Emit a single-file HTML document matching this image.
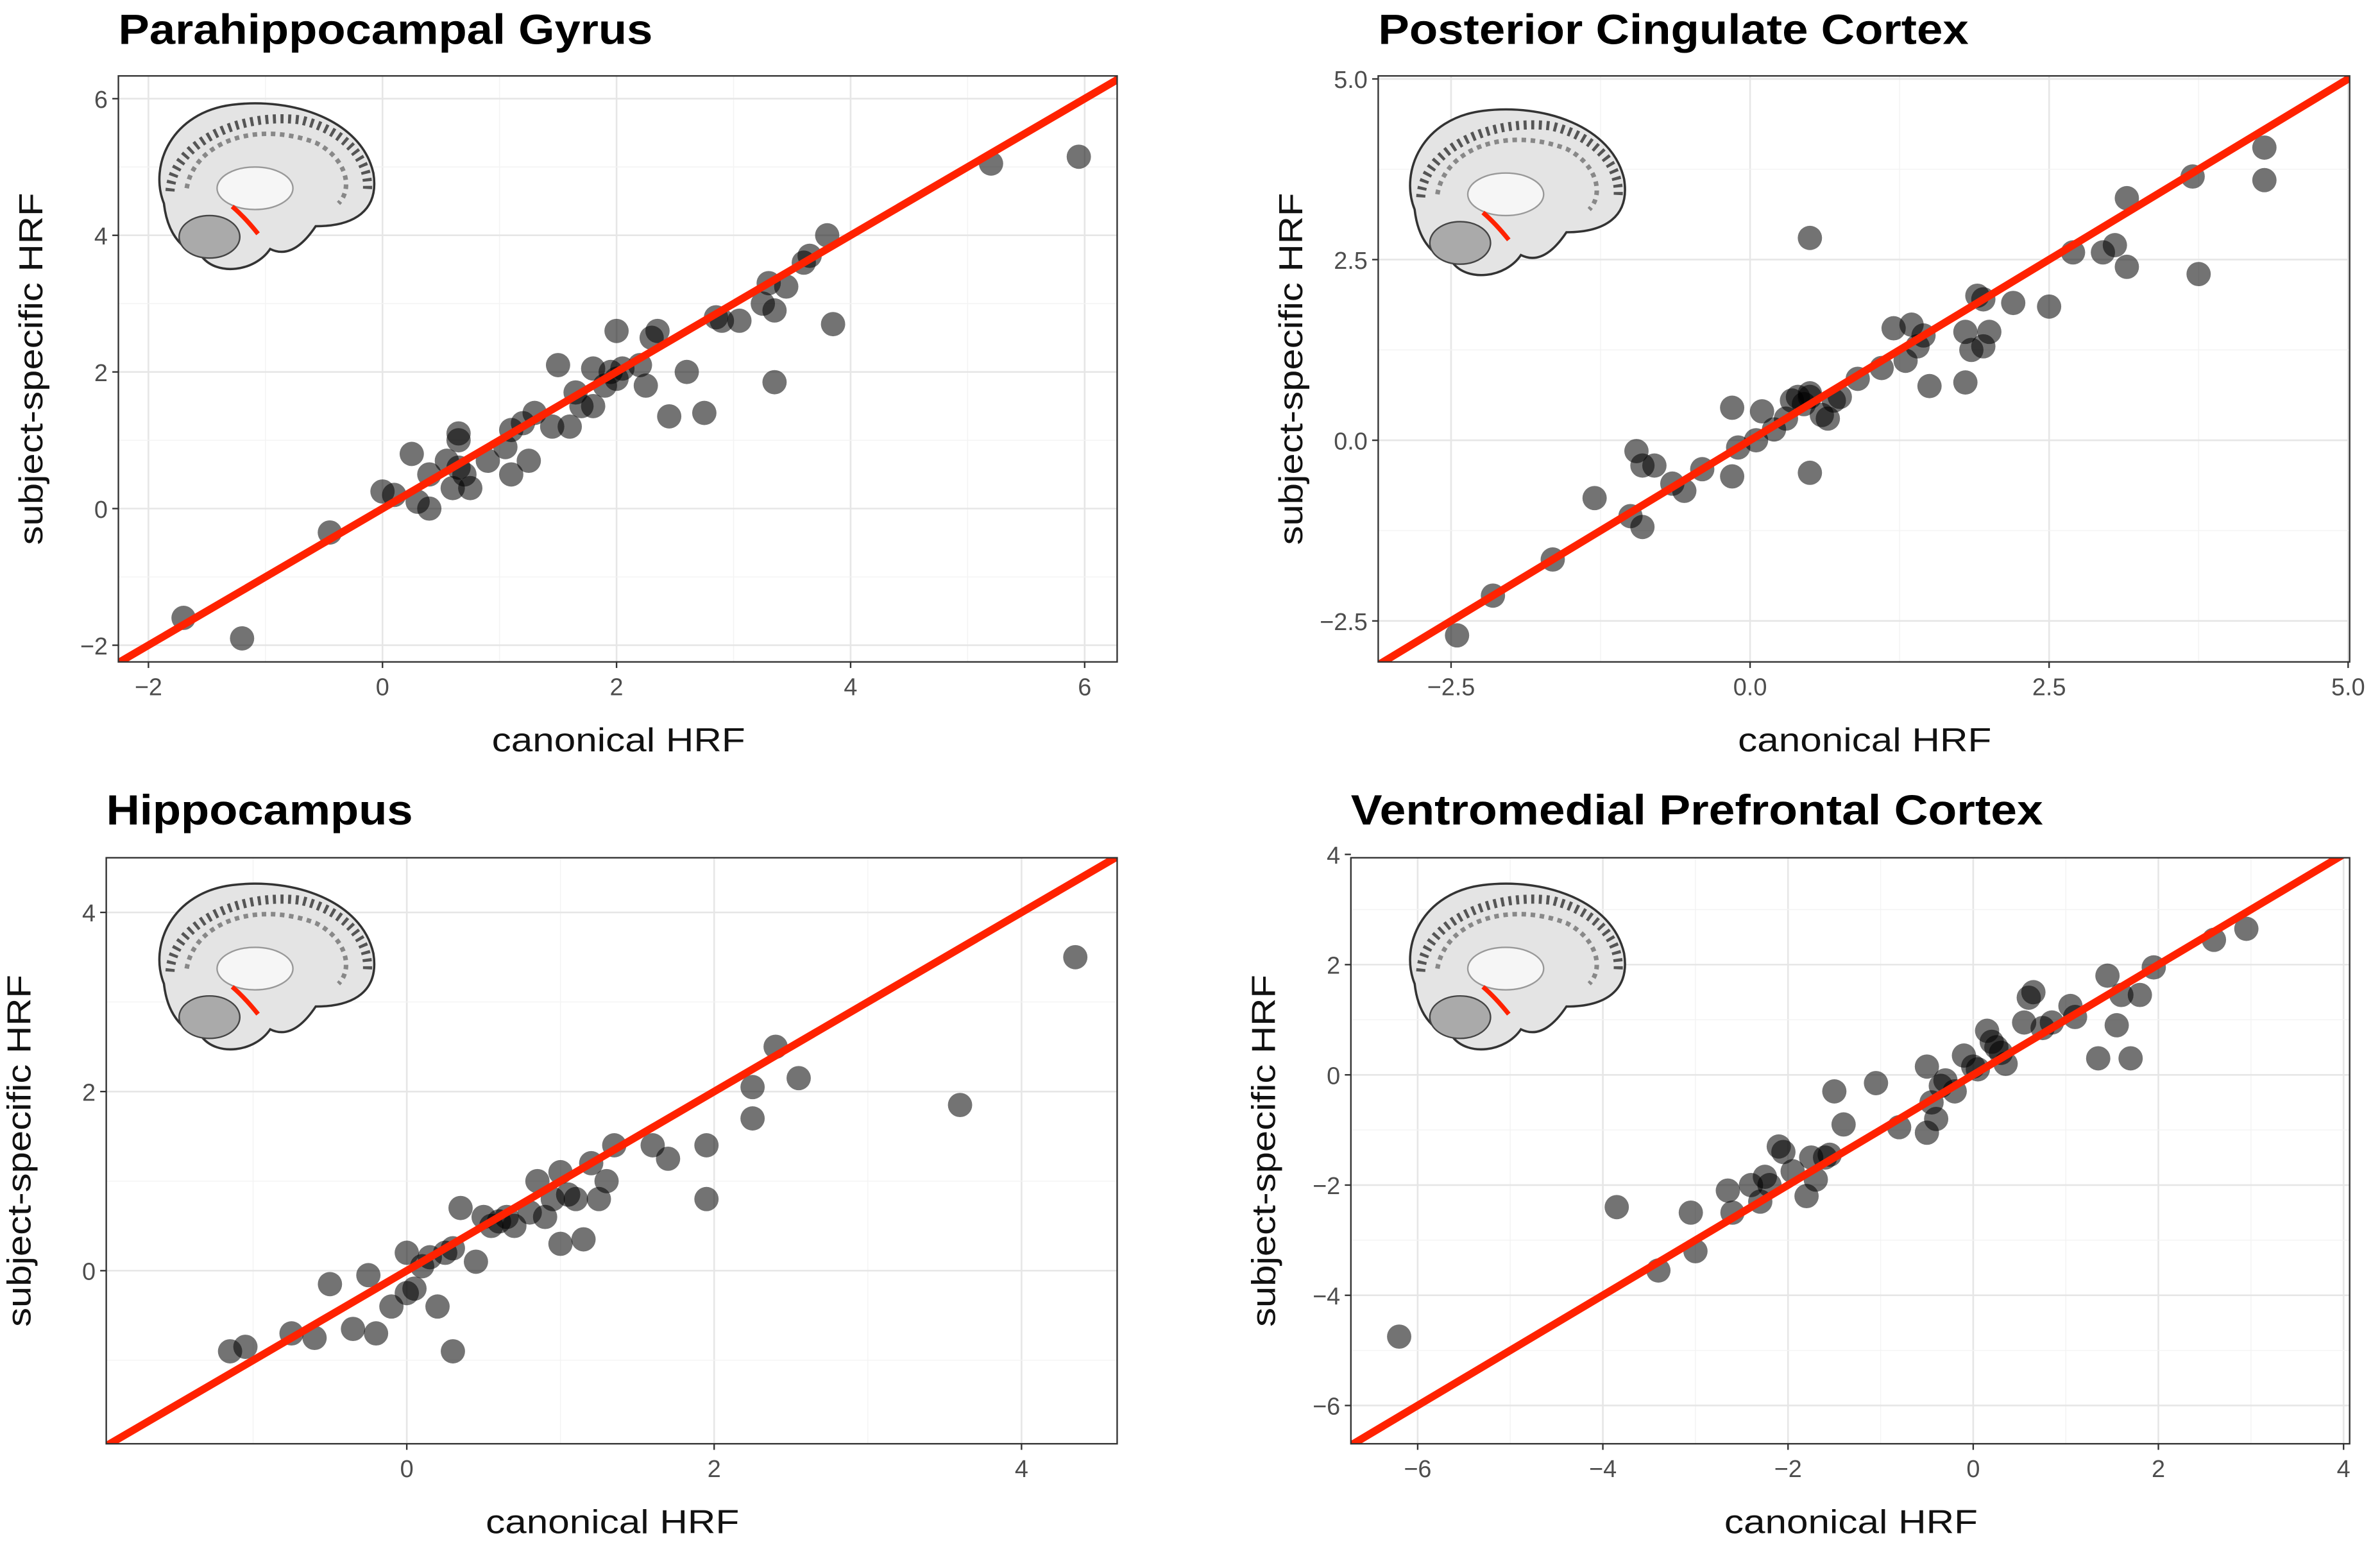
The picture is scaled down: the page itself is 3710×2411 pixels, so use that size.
<!DOCTYPE html>
<html><head><meta charset="utf-8">
<style>
html,body{margin:0;padding:0;background:#fff;}
svg{display:block;}
text{font-family:"Liberation Sans",Arial,sans-serif;}
</style></head>
<body>
<svg id="fig" width="3710" height="2411" viewBox="0 0 1568 1019" preserveAspectRatio="none" xmlns="http://www.w3.org/2000/svg"></svg>
<script>
// ---- data ----
const titles = ["Parahippocampal Gyrus","Posterior Cingulate Cortex","Hippocampus","Ventromedial Prefrontal Cortex"];
const xTicks1 = [-2,0,2,4,6];
const yTicks1 = [-2,0,2,4,6];
const xTicks2 = [-2.5,0.0,2.5,5.0];
const yTicks2 = [-2.5,0.0,2.5,5.0];
const xTicks3 = [0,2,4];
const yTicks3 = [0,2,4];
const xTicks4 = [-6,-4,-2,0,2,4];
const yTicks4 = [-6,-4,-2,0,2,4];
const xs1 = [-1.7,-1.2,-0.45,0,0.1,0.25,0.3,0.4,0.4,0.55,0.6,0.65,0.65,0.65,0.7,0.75,0.9,1.05,1.1,1.1,1.2,1.25,1.3,1.45,1.5,1.6,1.65,1.7,1.8,1.8,1.9,1.95,2.0,2.0,2.05,2.2,2.25,2.3,2.35,2.45,2.6,2.75,2.85,2.9,3.05,3.25,3.3,3.35,3.35,3.45,3.6,3.65,3.8,3.85,5.2,5.95];
const ys1 = [-1.6,-1.9,-0.35,0.25,0.2,0.8,0.1,0.5,0,0.7,0.3,1.0,1.1,0.6,0.5,0.3,0.7,0.9,1.15,0.5,1.25,0.7,1.4,1.2,2.1,1.2,1.7,1.5,1.5,2.05,1.8,2.0,2.6,1.9,2.05,2.1,1.8,2.5,2.6,1.35,2.0,1.4,2.8,2.75,2.75,3.0,3.3,2.9,1.85,3.25,3.6,3.7,4.0,2.7,5.05,5.15];
const xs2 = [-2.45,-2.15,-1.65,-1.3,-1.0,-0.9,-0.95,-0.9,-0.8,-0.65,-0.55,-0.4,-0.15,-0.15,-0.1,0.05,0.1,0.2,0.3,0.35,0.4,0.45,0.5,0.5,0.5,0.5,0.6,0.65,0.7,0.75,0.9,1.1,1.2,1.3,1.35,1.4,1.45,1.5,1.8,1.8,1.85,1.9,1.95,1.95,2.0,2.2,2.5,2.7,2.95,3.05,3.15,3.15,3.7,3.75,4.3,4.3];
const ys2 = [-2.7,-2.15,-1.65,-0.8,-1.05,-1.2,-0.15,-0.35,-0.35,-0.6,-0.7,-0.4,-0.5,0.45,-0.1,0.0,0.4,0.15,0.3,0.55,0.6,0.5,0.65,0.6,2.8,-0.45,0.35,0.3,0.55,0.6,0.85,1.0,1.55,1.1,1.6,1.3,1.45,0.75,0.8,1.5,1.25,2.0,1.95,1.3,1.5,1.9,1.85,2.6,2.6,2.7,3.35,2.4,3.65,2.3,4.05,3.6];
const xs3 = [-1.15,-1.05,-0.75,-0.6,-0.5,-0.35,-0.25,-0.2,-0.1,0,0,0.05,0.1,0.15,0.2,0.25,0.3,0.3,0.35,0.45,0.5,0.55,0.6,0.65,0.7,0.8,0.85,0.9,0.95,1.0,1.0,1.05,1.1,1.15,1.2,1.25,1.3,1.35,1.6,1.7,1.95,1.95,2.25,2.25,2.4,2.55,3.6,4.35];
const ys3 = [-0.9,-0.85,-0.7,-0.75,-0.15,-0.65,-0.05,-0.7,-0.4,0.2,-0.25,-0.2,0.05,0.15,-0.4,0.2,0.25,-0.9,0.7,0.1,0.6,0.5,0.55,0.6,0.5,0.65,1.0,0.6,0.8,1.1,0.3,0.85,0.8,0.35,1.2,0.8,1.0,1.4,1.4,1.25,0.8,1.4,1.7,2.05,2.5,2.15,1.85,3.5];
const xs4 = [-6.2,-3.85,-3.4,-3.05,-3.0,-2.65,-2.6,-2.4,-2.3,-2.25,-2.2,-2.1,-2.05,-1.95,-1.8,-1.75,-1.7,-1.6,-1.55,-1.5,-1.4,-1.05,-0.8,-0.5,-0.5,-0.45,-0.4,-0.35,-0.3,-0.2,-0.1,0,0.05,0.15,0.2,0.25,0.3,0.35,0.55,0.6,0.65,0.75,0.85,1.05,1.1,1.35,1.45,1.55,1.6,1.7,1.8,1.95,2.6,2.95];
const ys4 = [-4.75,-2.4,-3.55,-2.5,-3.2,-2.1,-2.5,-2.0,-2.3,-1.85,-2.0,-1.3,-1.4,-1.75,-2.2,-1.5,-1.9,-1.5,-1.45,-0.3,-0.9,-0.15,-0.95,-1.05,0.15,-0.5,-0.8,-0.2,-0.1,-0.3,0.35,0.15,0.1,0.8,0.6,0.5,0.4,0.2,0.95,1.4,1.5,0.85,0.95,1.25,1.05,0.3,1.8,0.9,1.45,0.3,1.45,1.95,2.45,2.65];

// ---- layout (thumbnail coordinates) ----
const panels = [
 {name:"parahippocampal", L:78,R:736,T:50,B:436, x0:252,xk:77.1, y0:335,yk:45, xt:xTicks1,yt:yTicks1,xs:xs1,ys:ys1, tx:78,ty:29,tw:352, fmt:v=>String(v), brain:[98,64]},
 {name:"posterior-cingulate", L:908,R:1548,T:50,B:436, x0:1153,xk:78.8, y0:290,yk:47.6, xt:xTicks2,yt:yTicks2,xs:xs2,ys:ys2, tx:908,ty:29,tw:389, fmt:v=>v.toFixed(1), brain:[922,68]},
 {name:"hippocampus", L:70,R:736,T:565,B:951, x0:268,xk:101.25, y0:837,yk:59, xt:xTicks3,yt:yTicks3,xs:xs3,ys:ys3, tx:70,ty:543,tw:202, fmt:v=>String(v), brain:[98,578]},
 {name:"vmpfc", L:890,R:1548,T:565,B:951, x0:1300,xk:61, y0:708,yk:36.3, xt:xTicks4,yt:yTicks4,xs:xs4,ys:ys4, tx:890,ty:543,tw:456, fmt:v=>String(v), brain:[922,578]}
];
const NS="http://www.w3.org/2000/svg";
const svg=document.getElementById('fig');
function mk(tag,attrs,parent){const e=document.createElementNS(NS,tag);for(const k in attrs)e.setAttribute(k,attrs[k]);(parent||svg).appendChild(e);return e;}
const defs=mk('defs',{});
panels.forEach((p,i)=>{
  const sx=v=>p.x0+p.xk*v, sy=v=>p.y0-p.yk*v;
  const g=mk('g',{});
  
  
  const cp=mk('clipPath',{id:'cp'+i},defs);
  mk('rect',{x:p.L,y:p.T,width:p.R-p.L,height:p.B-p.T},cp);
  const bg=mk('rect',{x:p.L,y:p.T,width:p.R-p.L,height:p.B-p.T,fill:'#fff'},g);
  
  
  const step=p.xt[1]-p.xt[0];
  const vxmin=(p.L-p.x0)/p.xk, vxmax=(p.R-p.x0)/p.xk;
  for(let v=Math.floor(vxmin/step*2)*step/2; v<=vxmax; v+=step/2){
    const major=Math.abs(Math.round(v/step)*step-v)<1e-6;
    const X=sx(v); if(X<p.L||X>p.R) continue;
    const l=mk('line',{x1:X,x2:X,y1:p.T,y2:p.B,stroke:major?'#e6e6e6':'#f3f3f3','stroke-width':major?1.1:0.6},g);
    
    
  }
  const ystep=p.yt[1]-p.yt[0];
  const vymin=(p.y0-p.B)/p.yk, vymax=(p.y0-p.T)/p.yk;
  for(let v=Math.floor(vymin/ystep*2)*ystep/2; v<=vymax; v+=ystep/2){
    const major=Math.abs(Math.round(v/ystep)*ystep-v)<1e-6;
    const Y=sy(v); if(Y<p.T||Y>p.B) continue;
    const l=mk('line',{x1:p.L,x2:p.R,y1:Y,y2:Y,stroke:major?'#e6e6e6':'#f3f3f3','stroke-width':major?1.1:0.6},g);
    
    
  }
  // brain inset
  const [bx,by]=p.brain;
  const br=mk('g',{transform:`translate(${bx},${by})`},g);
  
  
  mk('path',{d:'M10,70 C0,45 15,10 55,5 C95,0 140,15 148,50 C152,75 135,85 110,85 C100,100 90,105 80,100 C70,115 45,118 35,105 C20,100 12,88 10,70 Z',fill:'#e4e4e4',stroke:'#333','stroke-width':1.5},br);
  mk('path',{d:'M14,62 C16,30 60,10 100,15 C130,22 146,42 144,62',fill:'none',stroke:'#555','stroke-width':6,'stroke-dasharray':'2 3'},br);
  mk('path',{d:'M25,60 C30,30 70,15 110,30 C130,40 135,60 125,70',fill:'none',stroke:'#888','stroke-width':3,'stroke-dasharray':'3 3'},br);
  mk('ellipse',{cx:70,cy:60,rx:25,ry:14,fill:'#f6f6f6',stroke:'#999','stroke-width':1},br);
  mk('ellipse',{cx:40,cy:92,rx:20,ry:14,fill:'#aaa',stroke:'#444','stroke-width':1},br);
  mk('path',{d:'M55,72 C62,78 68,85 72,90',fill:'none',stroke:'#ff2200','stroke-width':3},br);
  // points
  const pg=mk('g',{'clip-path':`url(#cp${i})`},g);
  p.xs.forEach((xv,k)=>{
    const c=mk('circle',{cx:sx(xv),cy:sy(p.ys[k]),r:8,fill:'rgba(0,0,0,0.55)'},pg);
    
    
  });
  const lo=Math.min(vxmin,vymin)-1, hi=Math.max(vxmax,vymax)+1;
  const ln=mk('line',{x1:sx(lo),y1:sy(lo),x2:sx(hi),y2:sy(hi),stroke:'#ff2200','stroke-width':5},pg);
  
  
  const bd=mk('rect',{x:p.L,y:p.T,width:p.R-p.L,height:p.B-p.T,fill:'none',stroke:'#333','stroke-width':1},g);
  
  
  p.xt.forEach(v=>{
    const X=sx(v);
    const t=mk('line',{x1:X,x2:X,y1:p.B,y2:p.B+4,stroke:'#333','stroke-width':1},g);
    
    
    const tx=mk('text',{x:X,y:p.B+22,'text-anchor':'middle','font-size':16,fill:'#4d4d4d'},g);
    tx.textContent=(v<0?'\u2212':'')+p.fmt(Math.abs(v));
    
    
  });
  p.yt.forEach(v=>{
    const Y=sy(v);
    const t=mk('line',{x1:p.L-4,x2:p.L,y1:Y,y2:Y,stroke:'#333','stroke-width':1},g);
    
    
    const tx=mk('text',{x:p.L-7,y:Y+6,'text-anchor':'end','font-size':16,fill:'#4d4d4d'},g);
    tx.textContent=(v<0?'\u2212':'')+p.fmt(Math.abs(v));
    
    
  });
  const cx=(p.L+p.R)/2;
  const xt=mk('text',{x:cx-83,y:p.B+59,'font-size':22,fill:'#111',textLength:167,lengthAdjust:'spacingAndGlyphs'},g);
  xt.textContent='canonical HRF';
  
  
  const yx=p.L-50, yy=(p.T+p.B)/2;
  const yt=mk('text',{x:yx-116,y:yy,'font-size':22,fill:'#111',textLength:232,lengthAdjust:'spacingAndGlyphs',transform:`rotate(-90 ${yx} ${yy})`},g);
  yt.textContent='subject-specific HRF';
  
  
  const tt=mk('text',{x:p.tx,y:p.ty,'font-size':28,'font-weight':'bold',fill:'#000',textLength:p.tw,lengthAdjust:'spacingAndGlyphs'},g);
  tt.textContent=titles[i];
  
  
});
</script>
</body></html>
